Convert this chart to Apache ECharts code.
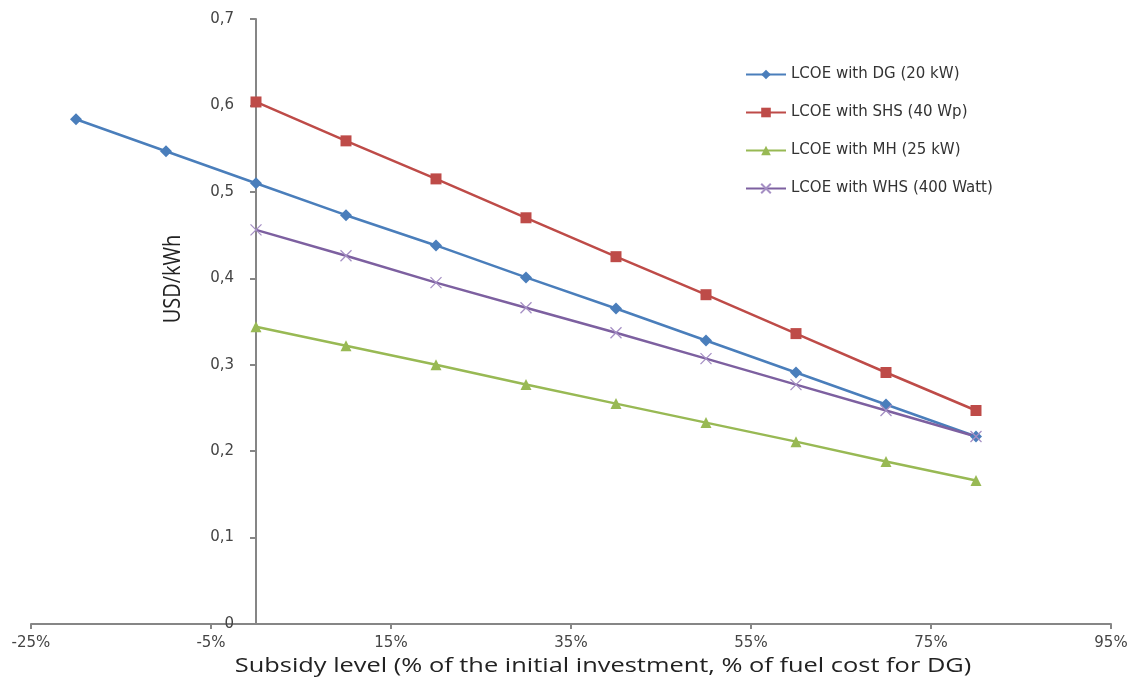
<!DOCTYPE html>
<html>
<head>
<meta charset="utf-8">
<script src="https://cdn.jsdelivr.net/npm/echarts@6/dist/echarts.min.js"></script>
<style>html,body{margin:0;padding:0;background:#fff}#c{width:1133px;height:679px}</style>
</head>
<body>
<div id="c"></div>
<script>
const seriesNames = ['LCOE with DG (20 kW)', 'LCOE with SHS (40 Wp)', 'LCOE with MH (25 kW)', 'LCOE with WHS (400 Watt)'];
const dgX = [-20, -10, 0, 10, 20, 30, 40, 50, 60, 70, 80];
const dgY = [0.584, 0.547, 0.510, 0.473, 0.438, 0.401, 0.365, 0.328, 0.291, 0.254, 0.217];
const otherX = [0, 10, 20, 30, 40, 50, 60, 70, 80];
const shsY = [0.604, 0.559, 0.515, 0.470, 0.425, 0.381, 0.336, 0.291, 0.247];
const mhY = [0.344, 0.322, 0.300, 0.277, 0.255, 0.233, 0.211, 0.188, 0.166];
const whsY = [0.456, 0.426, 0.395, 0.366, 0.337, 0.307, 0.277, 0.247, 0.217];
const xTitle = 'Subsidy level (% of the initial investment, % of fuel cost for DG)';
const yTitle = 'USD/kWh';

const pair = (xs, ys) => xs.map((x, i) => [x, ys[i]]);
const FONT = 'DejaVu Sans';
const colors = ['#4A7EBB', '#BE4B48', '#98B954', '#7D60A0'];

const chart = echarts.init(document.getElementById('c'));
chart.setOption({
  animation: false,
  textStyle: { fontFamily: FONT },
  grid: { left: 31, right: 22, top: 19, bottom: 55, containLabel: false },
  legend: {
    orient: 'vertical', left: 740, top: 62, itemGap: 23, itemWidth: 40, itemHeight: 12,
    textStyle: { fontFamily: FONT, fontSize: 15, color: '#333' },
    data: seriesNames
  },
  xAxis: {
    type: 'value', min: -25, max: 95, interval: 20,
    axisLine: { onZero: false, lineStyle: { color: '#868686', width: 2 } },
    axisTick: { show: true, length: 5, lineStyle: { color: '#868686', width: 2 } },
    axisLabel: { formatter: v => v + '%', color: '#444', fontSize: 15, margin: 12, fontFamily: FONT },
    splitLine: { show: false }
  },
  yAxis: {
    type: 'value', min: 0, max: 0.7, interval: 0.1, offset: -225,
    axisLine: { show: true, onZero: false, lineStyle: { color: '#868686', width: 2 } },
    axisTick: { show: true, length: 6, lineStyle: { color: '#868686', width: 2 } },
    axisLabel: { formatter: v => v === 0 ? '0' : v.toFixed(1).replace('.', ','), color: '#444', fontSize: 15, margin: 22, fontFamily: FONT },
    splitLine: { show: false }
  },
  graphic: [
    { type: 'text', x: 603, y: 666, scaleX: 1.27,
      style: { text: xTitle, font: '20px "Open Sans"', fill: '#222', textAlign: 'center', textVerticalAlign: 'middle' } },
    { type: 'text', x: 173, y: 279, rotation: Math.PI / 2, scaleY: 1.2,
      style: { text: yTitle, font: '20px "Open Sans"', fill: '#222', textAlign: 'center', textVerticalAlign: 'middle' } }
  ],
  series: [
    { name: seriesNames[0], type: 'line', data: pair(dgX, dgY), symbol: 'diamond', symbolSize: 12,
      lineStyle: { width: 2.5, color: colors[0] }, itemStyle: { color: colors[0] } },
    { name: seriesNames[1], type: 'line', data: pair(otherX, shsY), symbol: 'rect', symbolSize: 11,
      lineStyle: { width: 2.5, color: colors[1] }, itemStyle: { color: colors[1] } },
    { name: seriesNames[2], type: 'line', data: pair(otherX, mhY), symbol: 'triangle', symbolSize: 11,
      lineStyle: { width: 2.5, color: colors[2] }, itemStyle: { color: colors[2] } },
    { name: seriesNames[3], type: 'line', data: pair(otherX, whsY),
      symbol: 'path://M0,0L10,10M10,0L0,10', symbolSize: 11,
      lineStyle: { width: 2.5, color: colors[3] },
      itemStyle: { color: 'rgba(0,0,0,0)', borderColor: '#A58FC4', borderWidth: 1.3 } }
  ]
});
</script>
</body>
</html>
